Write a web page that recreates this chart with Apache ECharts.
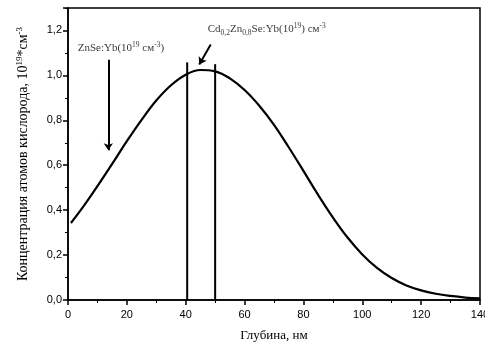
<!DOCTYPE html>
<html>
<head>
<meta charset="utf-8">
<script src="https://cdn.jsdelivr.net/npm/echarts@6/dist/echarts.min.js"></script>
<style>
  html, body { margin: 0; padding: 0; background: #fff; }
  #chart { width: 485px; height: 344px; }
</style>
</head>
<body>
<div id="chart"></div>
<script>
// глубина, нм
const depth = [1, 5, 10, 15, 20, 25, 30, 35, 40, 45, 50, 55, 60, 65, 70, 75, 80, 85, 90, 95, 100, 105, 110, 115, 120, 125, 130, 135, 140];
// концентрация кислорода, 10^19 см^-3
const oxygen = [0.343, 0.412, 0.507, 0.606, 0.707, 0.802, 0.888, 0.956, 1.003, 1.024, 1.018, 0.987, 0.935, 0.865, 0.78, 0.68, 0.575, 0.468, 0.368, 0.278, 0.203, 0.143, 0.098, 0.065, 0.043, 0.028, 0.018, 0.011, 0.007];

// границы слоя Cd0,2Zn0,8Se
const layerBounds = [40.5, 50];
const layerTops = [1.058, 1.05];

// стрелки: [x1, y1, x2, y2]
const arrowZnSe = [13.7, 1.07, 13.7, 0.667];
const arrowCdZnSe = [48.5, 1.138, 44.6, 1.049];

// подписи: [x, y]
const labelZnSe = [3.3, 1.12];
const labelCdZnSe = [47.5, 1.204];

const serif = "Liberation Serif";
const sans = "Liberation Sans";

const richText = {
  n: { fontFamily: serif, fontSize: 11, color: "#000", lineHeight: 15, verticalAlign: "middle" },
  sup: { fontFamily: serif, fontSize: 7.5, color: "#000", lineHeight: 15, verticalAlign: "top" },
  sub: { fontFamily: serif, fontSize: 7.5, color: "#000", lineHeight: 15, verticalAlign: "bottom" },
};

const chart = echarts.init(document.getElementById("chart"));

const option = {
  animation: false,
  backgroundColor: "#fff",
  grid: {
    left: 68,
    right: 5,
    top: 8,
    bottom: 44,
    outerBoundsMode: "none",
    containLabel: false,
    show: true,
    borderColor: "#000",
    borderWidth: 1.5,
  },
  xAxis: {
    type: "value",
    min: 0,
    max: 140,
    interval: 20,
    name: "Глубина, нм",
    nameLocation: "middle",
    nameGap: 29,
    nameTextStyle: { fontFamily: serif, fontSize: 13, color: "#000" },
    axisLine: { show: true, lineStyle: { color: "#000", width: 1.5 } },
    axisTick: { show: true, inside: false, length: 5, lineStyle: { color: "#000", width: 1.5 } },
    minorTick: { show: true, splitNumber: 2, length: 3, lineStyle: { color: "#000", width: 1 } },
    splitLine: { show: false },
    axisLabel: { fontFamily: sans, fontSize: 11, color: "#000", margin: 9 },
  },
  yAxis: {
    type: "value",
    min: 0,
    max: 1.3,
    interval: 0.2,
    name: "{n|Концентрация атомов кислорода, 10}{sup|19}{n|*см}{sup|-3}",
    nameLocation: "middle",
    nameGap: 36,
    nameTextStyle: {
      rich: {
        n: { fontFamily: serif, fontSize: 14, color: "#000", lineHeight: 17, verticalAlign: "middle" },
        sup: { fontFamily: serif, fontSize: 9, color: "#000", lineHeight: 17, verticalAlign: "top" },
      },
    },
    axisLine: { show: true, lineStyle: { color: "#000", width: 1.5 } },
    axisTick: { show: true, inside: false, length: 5, lineStyle: { color: "#000", width: 1.5 } },
    minorTick: { show: true, splitNumber: 2, length: 3, lineStyle: { color: "#000", width: 1 } },
    splitLine: { show: false },
    axisLabel: {
      fontFamily: sans,
      fontSize: 11,
      color: "#000",
      margin: 6,
      showMaxLabel: false,
      formatter: (v) => v.toFixed(1).replace(".", ","),
    },
  },
  series: [
    {
      name: "O",
      type: "line",
      data: depth.map((d, i) => [d, oxygen[i]]),
      smooth: 0.4,
      symbol: "none",
      lineStyle: { color: "#000", width: 2.2 },
    },
    ...layerBounds.map((x, i) => ({
      type: "line",
      data: [[x, 0], [x, layerTops[i]]],
      symbol: "none",
      lineStyle: { color: "#000", width: 2 },
    })),
    {
      type: "lines",
      coordinateSystem: "cartesian2d",
      symbol: ["none", "arrow"],
      symbolSize: [0, 7],
      lineStyle: { color: "#000", width: 2, opacity: 1 },
      data: [
        { coords: [[arrowZnSe[0], arrowZnSe[1]], [arrowZnSe[2], arrowZnSe[3]]] },
        { coords: [[arrowCdZnSe[0], arrowCdZnSe[1]], [arrowCdZnSe[2], arrowCdZnSe[3]]] },
      ],
    },
    {
      type: "scatter",
      symbolSize: 0,
      silent: true,
      data: [
        { value: labelZnSe, label: { formatter: "{n|ZnSe:Yb(10}{sup|19}{n| см}{sup|-3}{n|)}" } },
        { value: labelCdZnSe, label: { formatter: "{n|Cd}{sub|0,2}{n|Zn}{sub|0,8}{n|Se:Yb(10}{sup|19}{n|) см}{sup|-3}" } },
      ],
      label: {
        show: true,
        position: "right",
        distance: 0,
        rich: richText,
      },
    },
  ],
};

chart.setOption(option);
</script>
</body>
</html>
